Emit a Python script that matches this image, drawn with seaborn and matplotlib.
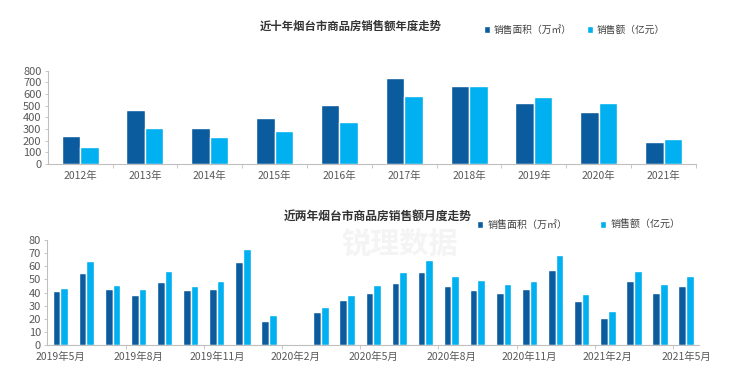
import matplotlib
matplotlib.use("Agg")
import matplotlib.pyplot as plt
from matplotlib.patches import Patch
import seaborn as sns
import pandas as pd
import numpy as np

# ---------------- data ----------------
years = ["2012年", "2013年", "2014年", "2015年", "2016年",
         "2017年", "2018年", "2019年", "2020年", "2021年"]
year_area = [238, 460, 310, 395, 507, 740, 665, 520, 445, 188]
year_amount = [145, 305, 232, 280, 360, 585, 665, 572, 525, 218]

months = ["2019年5月", "2019年6月", "2019年7月", "2019年8月", "2019年9月",
          "2019年10月", "2019年11月", "2019年12月", "2020年1月", "2020年2月",
          "2020年3月", "2020年4月", "2020年5月", "2020年6月", "2020年7月",
          "2020年8月", "2020年9月", "2020年10月", "2020年11月", "2020年12月",
          "2021年1月", "2021年2月", "2021年3月", "2021年4月", "2021年5月"]
month_area = [41, 55, 43, 38, 48, 42, 43, 63, 18.5, 0.8, 25, 34,
              39.5, 47.3, 55.7, 44.8, 42, 39.7, 42.5, 57.2, 33.4, 20.3,
              48.6, 39.7, 44.8]
month_amount = [43.5, 64, 46, 42.5, 56.5, 45, 48.5, 73.5, 23, 0.8, 29, 38,
                45.5, 55.7, 64.8, 52.7, 49.6, 46.8, 49.1, 68.4, 39.2, 26,
                56.2, 46.8, 52.7]

series_names = ["销售面积（万㎡）", "销售额（亿元）"]
title_top = "近十年烟台市商品房销售额年度走势"
title_bottom = "近两年烟台市商品房销售额月度走势"

# ---------------- style ----------------
sns.set_theme(style="white")
plt.rcParams["font.family"] = ["Noto Sans CJK SC", "DejaVu Sans"]
DARK = "#0B5C9E"
LIGHT = "#00B0F0"
palette = {series_names[0]: DARK, series_names[1]: LIGHT}
TICK_COLOR = "#595959"
SPINE_COLOR = "#BFBFBF"

df_year = pd.DataFrame({
    "cat": years * 2,
    "val": year_area + year_amount,
    "series": [series_names[0]] * len(years) + [series_names[1]] * len(years),
})
df_month = pd.DataFrame({
    "cat": months * 2,
    "val": month_area + month_amount,
    "series": [series_names[0]] * len(months) + [series_names[1]] * len(months),
})

fig = plt.figure(figsize=(7.4, 3.74), dpi=100)
fig.patch.set_facecolor("white")

# faint watermark behind everything
fig.text(0.54, 1 - 244 / 374, "锐理数据", fontsize=21, color="#F4F4F4",
         fontweight="bold", ha="center", va="center", zorder=-10)


def style_axes(ax, n, ymax, ystep, minor_pos):
    ax.set_facecolor("none")
    for s in ["top", "right"]:
        ax.spines[s].set_visible(False)
    for s in ["left", "bottom"]:
        ax.spines[s].set_color(SPINE_COLOR)
        ax.spines[s].set_linewidth(0.8)
    ax.set_xlim(-0.5, n - 0.5)
    ax.set_ylim(0, ymax)
    ax.set_yticks(np.arange(0, ymax + 1, ystep))
    ax.tick_params(axis="y", labelsize=8, colors=TICK_COLOR, length=2.5,
                   width=0.6, color=SPINE_COLOR, pad=2, left=True)
    ax.tick_params(axis="x", which="major", labelsize=7.5, colors=TICK_COLOR,
                   length=0, pad=5)
    ax.set_xticks(minor_pos, minor=True)
    ax.tick_params(axis="x", which="minor", length=3, width=0.6,
                   color=SPINE_COLOR, bottom=True)
    ax.set_xlabel("")
    ax.set_ylabel("")
    ax.grid(False)


# ---------------- top chart ----------------
ax1 = fig.add_axes([0.0645, 0.5615, 0.876, 0.2495])
sns.barplot(data=df_year, x="cat", y="val", hue="series", palette=palette,
            width=0.57, gap=0, dodge=True, saturation=1, ax=ax1,
            legend=False, order=years, hue_order=series_names)
ax1.set_xticks(range(len(years)))
ax1.set_xticklabels(years)
style_axes(ax1, len(years), 800, 100, np.arange(0.5, len(years), 1.0))

fig.text(351 / 740, 1 - 26 / 374, title_top, fontsize=8.2, fontweight="bold",
         color="#333333", ha="center", va="center")

handles = [Patch(facecolor=DARK), Patch(facecolor=LIGHT)]
fig.legend(handles, series_names, loc="center left",
           bbox_to_anchor=(484 / 740, 1 - 30 / 374), ncol=2, frameon=False,
           fontsize=7, handlelength=0.6, handleheight=0.6,
           handletextpad=0.4, columnspacing=1.6, labelcolor="#404040",
           borderaxespad=0, borderpad=0)

# ---------------- bottom chart ----------------
ax2 = fig.add_axes([0.064, 0.0775, 0.8807, 0.2807])
sns.barplot(data=df_month, x="cat", y="val", hue="series", palette=palette,
            width=0.59, gap=0, dodge=True, saturation=1, ax=ax2,
            legend=False, order=months, hue_order=series_names)
lab_idx = list(range(0, len(months), 3))
ax2.set_xticks(lab_idx)
ax2.set_xticklabels([months[i] for i in lab_idx])
style_axes(ax2, len(months), 80, 10, np.arange(2.5, len(months) - 1, 3.0))

fig.text(378 / 740, 1 - 216 / 374, title_bottom, fontsize=8.5,
         fontweight="bold", color="#333333", ha="center", va="center")
fig.legend(handles, series_names, loc="center left",
           bbox_to_anchor=(477 / 740, 1 - 225 / 374), ncol=2, frameon=False,
           fontsize=7.2, handlelength=0.6, handleheight=0.6,
           handletextpad=0.5, columnspacing=3.2, labelcolor="#404040",
           borderaxespad=0, borderpad=0)

fig.savefig("out.png", dpi=100, facecolor="white")
